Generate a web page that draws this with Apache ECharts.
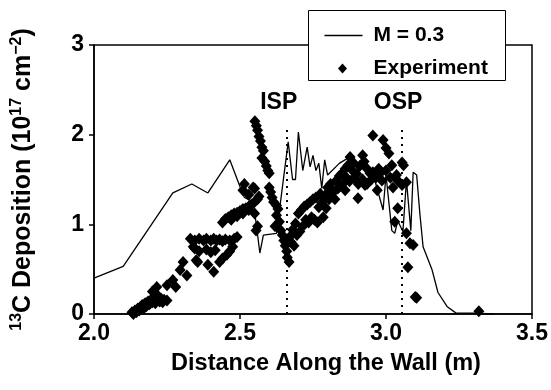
<!DOCTYPE html>
<html>
<head>
<meta charset="utf-8">
<script src="https://cdn.jsdelivr.net/npm/echarts@6/dist/echarts.min.js"></script>
<style>
  html, body { margin: 0; padding: 0; background: #fff; }
  #chart { width: 551px; height: 390px; }
</style>
</head>
<body>
<div id="chart"></div>
<script>
// model curve, M = 0.3: [distance (m), deposition]
const modelLine = [
  [2.00, 0.40], [2.10, 0.53], [2.27, 1.35], [2.335, 1.45], [2.39, 1.35],
  [2.465, 1.72], [2.50, 1.42], [2.515, 1.30], [2.545, 1.25], [2.555, 1.02],
  [2.568, 0.68], [2.58, 0.88], [2.625, 0.90], [2.665, 1.92], [2.68, 1.50],
  [2.69, 1.50], [2.70, 2.03], [2.715, 1.60], [2.73, 1.86], [2.74, 1.64],
  [2.75, 1.77], [2.76, 1.60], [2.77, 1.68], [2.78, 1.40], [2.79, 1.72],
  [2.80, 1.55], [2.84, 1.68], [2.875, 1.75], [2.92, 1.64], [2.955, 1.57],
  [2.99, 1.16], [3.00, 1.55], [3.02, 0.93], [3.03, 0.90], [3.04, 1.04],
  [3.058, 0.92], [3.07, 1.49], [3.085, 0.93], [3.093, 1.58], [3.105, 1.55],
  [3.116, 1.12], [3.127, 0.75], [3.158, 0.49], [3.178, 0.24], [3.21, 0.08],
  [3.24, 0.01], [3.30, 0.01], [3.37, 0.00]
]

// experiment points
const experiment = [
  [2.13, 0.02], [2.135, 0.00], [2.14, 0.04], [2.145, 0.02], [2.15, 0.06],
  [2.155, 0.04], [2.16, 0.08], [2.165, 0.10], [2.17, 0.06], [2.175, 0.12],
  [2.18, 0.09], [2.185, 0.14], [2.19, 0.11], [2.195, 0.16], [2.20, 0.13],
  [2.205, 0.18], [2.21, 0.12], [2.215, 0.15], [2.22, 0.20], [2.225, 0.14],
  [2.23, 0.17], [2.235, 0.13], [2.24, 0.16], [2.25, 0.15],
  [2.20, 0.25], [2.215, 0.30], [2.25, 0.32], [2.27, 0.38], [2.28, 0.30],
  [2.295, 0.49], [2.305, 0.58], [2.318, 0.43], [2.34, 0.75], [2.35, 0.60],
  [2.33, 0.84], [2.345, 0.82], [2.36, 0.84], [2.375, 0.82], [2.385, 0.84],
  [2.40, 0.82], [2.41, 0.84], [2.42, 0.82], [2.43, 0.83], [2.44, 0.81],
  [2.45, 0.83], [2.465, 0.82], [2.48, 0.84], [2.49, 0.86],
  [2.345, 0.73], [2.36, 0.70], [2.385, 0.72], [2.40, 0.69], [2.415, 0.71],
  [2.355, 0.58], [2.39, 0.55], [2.41, 0.47], [2.43, 0.58], [2.44, 0.62],
  [2.455, 0.66], [2.465, 0.70], [2.475, 0.75],
  [2.44, 1.02], [2.45, 1.06], [2.46, 1.08], [2.47, 1.10], [2.48, 1.12],
  [2.49, 1.13], [2.50, 1.15], [2.51, 1.17], [2.52, 1.18], [2.53, 1.20],
  [2.54, 1.22], [2.55, 1.25], [2.56, 1.28], [2.565, 1.31], [2.47, 1.05],
  [2.49, 1.09], [2.51, 1.12], [2.53, 1.16],
  [2.51, 1.38], [2.515, 1.45], [2.53, 1.33], [2.545, 1.41], [2.55, 1.40],
  [2.55, 1.12], [2.555, 0.93], [2.56, 0.98],
  [2.551, 2.15], [2.556, 2.10], [2.56, 2.05], [2.565, 1.98], [2.57, 1.93],
  [2.575, 1.86], [2.58, 1.82], [2.575, 1.74], [2.585, 1.70], [2.59, 1.65],
  [2.595, 1.60], [2.60, 1.57],
  [2.60, 1.41], [2.605, 1.36], [2.61, 1.30], [2.615, 1.25], [2.625, 1.21],
  [2.63, 1.17], [2.625, 1.10], [2.635, 1.03], [2.62, 0.98], [2.64, 0.93],
  [2.645, 0.88], [2.65, 0.82], [2.655, 0.76], [2.66, 0.70], [2.662, 0.63],
  [2.668, 0.58],
  [2.67, 0.86], [2.675, 0.80], [2.68, 0.94], [2.685, 0.76], [2.69, 1.01],
  [2.695, 0.88], [2.70, 1.12], [2.705, 0.92], [2.71, 1.16], [2.715, 0.98],
  [2.72, 1.20], [2.725, 1.05], [2.73, 1.22], [2.735, 1.02], [2.74, 1.25],
  [2.745, 1.08], [2.75, 1.28], [2.755, 1.05], [2.76, 1.30], [2.765, 1.02],
  [2.77, 1.19], [2.775, 1.34], [2.785, 1.08], [2.79, 1.32], [2.80, 1.41],
  [2.805, 1.28], [2.81, 1.45], [2.82, 1.36], [2.83, 1.49], [2.835, 1.40],
  [2.84, 1.54], [2.85, 1.57], [2.855, 1.46], [2.86, 1.62], [2.865, 1.52],
  [2.87, 1.66], [2.877, 1.75], [2.885, 1.60], [2.89, 1.68], [2.90, 1.56],
  [2.904, 1.29], [2.91, 1.65], [2.92, 1.77], [2.925, 1.70], [2.928, 1.44],
  [2.935, 1.62], [2.945, 1.57], [2.955, 1.58], [2.955, 1.99], [2.965, 1.52],
  [2.97, 1.38], [2.975, 1.62], [2.98, 1.57], [2.986, 1.49], [2.99, 1.94],
  [3.00, 1.85], [3.00, 1.60], [3.01, 1.79], [3.015, 1.52], [3.02, 1.66],
  [3.024, 1.41], [3.03, 1.03], [3.036, 1.55], [3.04, 1.49], [3.04, 1.18],
  [3.055, 1.69], [3.055, 1.44], [3.06, 1.66], [3.07, 1.47], [3.07, 0.90],
  [3.075, 0.52], [3.082, 0.79], [3.093, 0.77], [3.10, 0.19], [3.105, 0.18],
  [2.78, 1.24], [2.795, 1.18], [2.81, 1.33], [2.825, 1.28], [2.84, 1.42],
  [2.86, 1.38], [2.875, 1.48], [2.89, 1.52], [2.905, 1.45], [2.92, 1.50],
  [2.935, 1.45], [2.95, 1.50],
  [3.318, 0.03]
]

// strike points
const strikeNames = ['ISP', 'OSP']
const strikeX = [2.66, 3.055]
const strikeTop = 2.07

const seriesNames = ['M = 0.3', 'Experiment']

const font = 'Liberation Sans'

const chart = echarts.init(document.getElementById('chart'))

// legend box drawn by hand (line + small diamond like the original)
const legendGraphic = {
  type: 'group', left: 308, top: 10, z: 100,
  children: [
    { type: 'rect', shape: { x: 0, y: 0, width: 197, height: 70 },
      style: { fill: '#fff', stroke: '#000', lineWidth: 1 } },
    { type: 'line', shape: { x1: 16, y1: 25, x2: 54, y2: 25 },
      style: { stroke: '#000', lineWidth: 1.3 } },
    { type: 'polygon', shape: { points: [[34, 53], [38.5, 58], [34, 63], [29.5, 58]] },
      style: { fill: '#000' } },
    { type: 'text', x: 65, y: 25,
      style: { text: seriesNames[0], fontFamily: font, fontWeight: 'bold', fontSize: 21, fill: '#000', verticalAlign: 'middle' } },
    { type: 'text', x: 65, y: 58,
      style: { text: seriesNames[1], fontFamily: font, fontWeight: 'bold', fontSize: 21, fill: '#000', verticalAlign: 'middle' } }
  ]
}

chart.setOption({
  animation: false,
  backgroundColor: '#fff',
  textStyle: { fontFamily: font, fontWeight: 'bold', color: '#000' },
  grid: {
    left: 94, right: 19, top: 45, bottom: 76,
    containLabel: false, outerBoundsMode: 'none',
    show: true, borderColor: '#000', borderWidth: 1.5, backgroundColor: 'transparent'
  },
  graphic: [legendGraphic],
  xAxis: {
    type: 'value', min: 2, max: 3.5, interval: 0.5,
    name: 'Distance Along the Wall (m)',
    nameLocation: 'middle', nameGap: 38,
    nameTextStyle: { fontFamily: font, fontWeight: 'bold', fontSize: 23.5, color: '#000', padding: [0, 0, 0, 26] },
    axisLine: { lineStyle: { color: '#000', width: 1.5 } },
    axisTick: { show: true, length: 5, lineStyle: { color: '#000', width: 1.5 } },
    axisLabel: {
      fontFamily: font, fontWeight: 'bold', fontSize: 23, color: '#000', margin: 8,
      formatter: v => v.toFixed(1)
    },
    splitLine: { show: false }
  },
  yAxis: {
    type: 'value', min: 0, max: 3, interval: 1,
    name: '{s|13}C Deposition (10{s|17} cm{s|\u22122})',
    nameLocation: 'middle', nameGap: 57,
    nameTextStyle: {
      fontFamily: font, fontWeight: 'bold', fontSize: 25, color: '#000',
      rich: { s: { fontFamily: font, fontWeight: 'bold', fontSize: 16, verticalAlign: 'top', padding: [0, 0, 12, 0] } }
    },
    axisLine: { lineStyle: { color: '#000', width: 1.5 } },
    axisTick: { show: true, length: 5, lineStyle: { color: '#000', width: 1.5 } },
    axisLabel: { fontFamily: font, fontWeight: 'bold', fontSize: 23, color: '#000', margin: 10 },
    splitLine: { show: false }
  },
  series: [
    {
      name: seriesNames[0],
      type: 'line',
      data: modelLine,
      symbol: 'none',
      lineStyle: { color: '#000', width: 1.3 },
      itemStyle: { color: '#000' },
      z: 2,
      markLine: {
        silent: true,
        symbol: ['none', 'none'],
        lineStyle: { color: '#000', width: 2, type: [2, 5] },
        label: {
          show: true, position: 'end', distance: 14,
          fontFamily: font, fontWeight: 'bold', fontSize: 23, color: '#000',
          formatter: p => p.name
        },
        data: strikeX.map((x, i) => [
          { name: strikeNames[i], coord: [x, 0], label: { offset: [i === 0 ? -8 : -4, 0] } },
          { coord: [x, strikeTop], label: { offset: [i === 0 ? -8 : -4, 0] } }
        ])
      }
    },
    {
      name: seriesNames[1],
      type: 'scatter',
      data: experiment,
      symbol: 'diamond',
      symbolSize: [11, 12],
      itemStyle: { color: '#000', opacity: 1 },
      z: 3
    }
  ]
})
</script>
</body>
</html>
